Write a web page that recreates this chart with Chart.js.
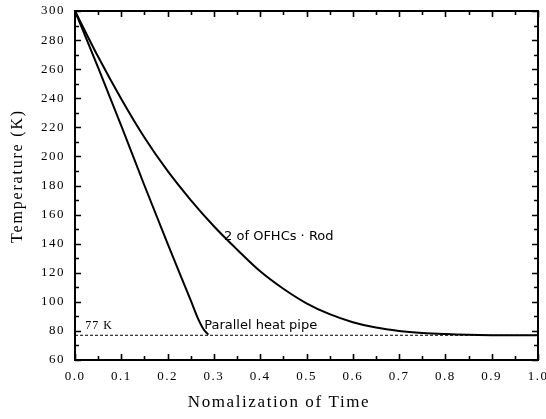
<!DOCTYPE html>
<html>
<head>
<meta charset="utf-8">
<script src="https://cdn.jsdelivr.net/npm/chart.js@4/dist/chart.umd.min.js"></script>
<style>
  html, body { margin: 0; padding: 0; background: #fff; }
  #wrap { width: 546px; height: 419px; }
</style>
</head>
<body>
<div id="wrap"><canvas id="c" width="546" height="419"></canvas></div>
<script>
// values
const rodTime = [0, 0.05, 0.1, 0.15, 0.2, 0.25, 0.3, 0.35, 0.4, 0.45, 0.5, 0.55, 0.6, 0.65, 0.7, 0.75, 0.8, 0.85, 0.9, 1.0];
const rodTemp = [300, 268.5, 239.5, 213, 190, 170, 152, 136, 121, 109, 99, 91.5, 86, 82.3, 80, 78.6, 77.8, 77.3, 77.1, 77];

const pipeTime = [0, 0.05, 0.1, 0.15, 0.2, 0.25, 0.265, 0.278, 0.288];
const pipeTemp = [300, 261, 221, 180, 140, 101, 89, 81, 77.5];

const lN2Time = [0, 1];
const lN2Temp = [77, 77];

const xTicks = [0, 0.1, 0.2, 0.3, 0.4, 0.5, 0.6, 0.7, 0.8, 0.9, 1.0];
const yTicks = [60, 80, 100, 120, 140, 160, 180, 200, 220, 240, 260, 280, 300];

const xTitle = 'Nomalization of Time';
const yTitle = 'Temperature (K)';

// text notes: [text, x, y]
const notes = [
  ['2 of OFHCs \u00b7 Rod', 0.322, 144.5],
  ['Parallel heat pipe', 0.279, 83.5],
];
const lN2Note = ['77 K', 0.022, 83.5];

const serif = '"Liberation Serif", "Times New Roman", serif';
const toPoints = (xs, ys) => xs.map((x, i) => ({ x, y: ys[i] }));

// frame + inward ticks on all four sides, titles and the text notes
const framePlugin = {
  id: 'frame',
  beforeDraw(chart) {
    chart.ctx.letterSpacing = '1.5px';
  },
  afterDatasetsDraw(chart) {
    const { ctx, chartArea: a } = chart;
    const xs = chart.scales.x;
    const ys = chart.scales.y;
    ctx.save();
    ctx.letterSpacing = '0px';
    ctx.strokeStyle = '#000';
    ctx.lineWidth = 2;
    ctx.strokeRect(a.left, a.top, a.right - a.left, a.bottom - a.top);
    ctx.lineWidth = 1.6;
    ctx.beginPath();
    for (let i = 0; i <= 20; i += 1) {
      const px = Math.round(xs.getPixelForValue(i * 0.05)) + 0.5;
      const len = i % 2 === 0 ? 6 : 4;
      ctx.moveTo(px, a.bottom); ctx.lineTo(px, a.bottom - len);
      ctx.moveTo(px, a.top); ctx.lineTo(px, a.top + len);
    }
    for (let v = 60; v <= 300; v += 10) {
      const py = Math.round(ys.getPixelForValue(v)) + 0.5;
      const len = v % 20 === 0 ? 6 : 4;
      ctx.moveTo(a.left, py); ctx.lineTo(a.left + len, py);
      ctx.moveTo(a.right, py); ctx.lineTo(a.right - len, py);
    }
    ctx.stroke();

    ctx.fillStyle = '#000';
    ctx.textBaseline = 'middle';
    ctx.textAlign = 'left';
    ctx.font = '13px "DejaVu Sans", Verdana, sans-serif';
    notes.forEach(([text, x, y]) => {
      ctx.fillText(text, xs.getPixelForValue(x), ys.getPixelForValue(y));
    });
    ctx.letterSpacing = '1px';
    ctx.font = `12px ${serif}`;
    ctx.fillText(lN2Note[0], xs.getPixelForValue(lN2Note[1]), ys.getPixelForValue(lN2Note[2]));

    // axis titles (sit a little left of / above centre in the original)
    ctx.textAlign = 'center';
    ctx.letterSpacing = '1.6px';
    ctx.font = `17px ${serif}`;
    ctx.fillText(xTitle, 279, 403);
    ctx.translate(18, 176);
    ctx.rotate(-Math.PI / 2);
    ctx.letterSpacing = '1.8px';
    ctx.font = `16px ${serif}`;
    ctx.fillText(yTitle, 0, 0);
    ctx.restore();
  },
};

const noPadding = (scale) => {
  scale.paddingLeft = 0;
  scale.paddingRight = 0;
  scale.paddingTop = 0;
  scale.paddingBottom = 0;
};

new Chart(document.getElementById('c'), {
  type: 'scatter',
  data: {
    datasets: [{
      label: '2 of OFHCs Rod',
      data: toPoints(rodTime, rodTemp),
      showLine: true,
      borderColor: '#000',
      borderWidth: 2,
      pointRadius: 0,
      tension: 0.35,
    },
    {
      label: 'Parallel heat pipe',
      data: toPoints(pipeTime, pipeTemp),
      showLine: true,
      borderColor: '#000',
      borderWidth: 2,
      pointRadius: 0,
      cubicInterpolationMode: 'monotone',
    },
    {
      label: '77 K',
      data: toPoints(lN2Time, lN2Temp),
      showLine: true,
      borderColor: '#000',
      borderWidth: 1,
      borderDash: [3, 2],
      pointRadius: 0,
    }],
  },
  options: {
    responsive: false,
    animation: false,
    devicePixelRatio: 1,
    layout: {
      padding: { top: 11, right: 8, left: 0, bottom: 0 },
    },
    plugins: {
      legend: { display: false },
      tooltip: { enabled: false },
    },
    scales: {
      x: {
        type: 'linear',
        min: 0,
        max: 1,
        afterFit: (scale) => { scale.height = 59; noPadding(scale); },
        afterBuildTicks: (scale) => { scale.ticks = xTicks.map((value) => ({ value })); },
        grid: { display: false, drawTicks: false },
        border: { display: false },
        ticks: {
          padding: 9,
          color: '#000',
          maxRotation: 0,
          font: { family: serif, size: 13 },
          callback: (value) => value.toFixed(1),
        },
        title: { display: false },
      },
      y: {
        type: 'linear',
        min: 60,
        max: 300,
        afterFit: (scale) => { scale.width = 75; noPadding(scale); },
        afterBuildTicks: (scale) => { scale.ticks = yTicks.map((value) => ({ value })); },
        grid: { display: false, drawTicks: false },
        border: { display: false },
        ticks: {
          padding: 10,
          color: '#000',
          font: { family: serif, size: 13 },
        },
        title: { display: false },
      },
    },
  },
  plugins: [framePlugin],
});
</script>
</body>
</html>
